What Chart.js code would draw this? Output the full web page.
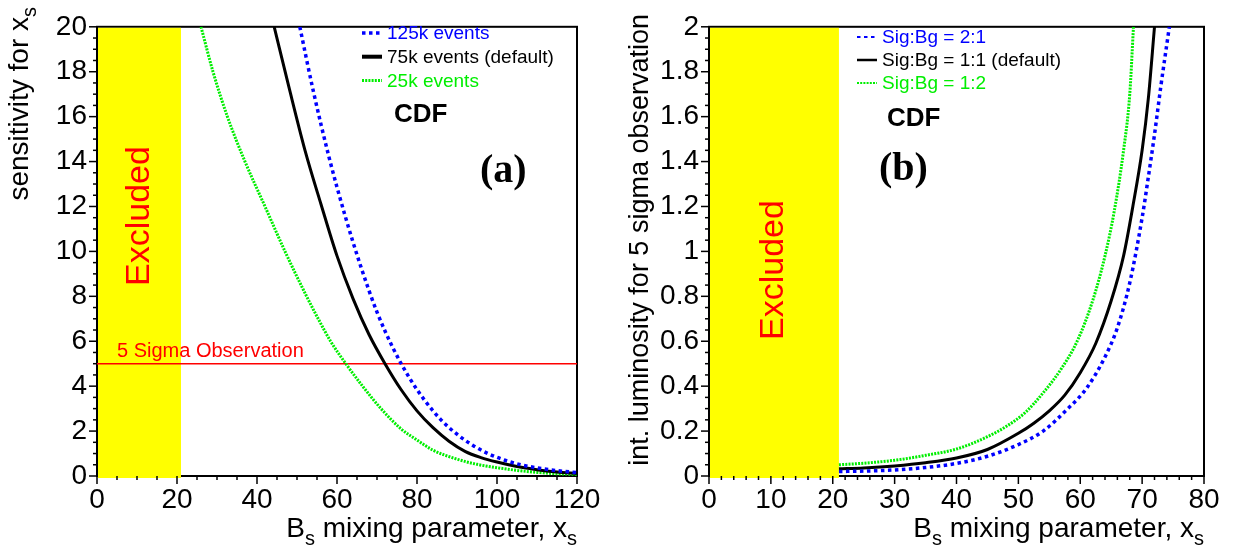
<!DOCTYPE html>
<html>
<head>
<meta charset="utf-8">
<script src="https://cdn.jsdelivr.net/npm/chart.js@4.4.0/dist/chart.umd.min.js"></script>
<style>
html, body { margin: 0; padding: 0; background: #fff; }
#wrap { position: relative; width: 1233px; height: 550px; }
.panel { position: absolute; top: 0; height: 550px; }
</style>
</head>
<body>
<div id="wrap">
  <div class="panel" style="left:0;width:615px"><canvas id="chartA" width="615" height="550"></canvas></div>
  <div class="panel" style="left:615px;width:618px"><canvas id="chartB" width="618" height="550"></canvas></div>
</div>
<script>
// ---- panel (a): sensitivity for x_s vs x_s ----
const a125kX = [50.7, 54, 58, 62, 66, 70, 74, 78, 82, 86, 90, 94, 98, 102, 106, 110, 115, 120];
const a125kY = [20, 17.2, 14.2, 11.6, 9.3, 7.3, 5.7, 4.4, 3.35, 2.5, 1.86, 1.36, 0.98, 0.7, 0.5, 0.36, 0.24, 0.15];
const a75kX = [44.3, 48, 52, 56, 60, 64, 68, 72, 76, 80, 84, 88, 92, 96, 100, 105, 110, 115, 120];
const a75kY = [20, 17.3, 14.5, 12.1, 9.8, 7.9, 6.3, 5.0, 3.85, 2.9, 2.15, 1.55, 1.1, 0.82, 0.62, 0.42, 0.28, 0.18, 0.11];
const a25kX = [26, 29, 32.6, 37, 42, 47, 52.4, 55.3, 58.4, 62.2, 66.4, 71, 76, 80, 84, 90, 95, 100, 105, 110, 115, 120];
const a25kY = [20, 18, 16, 14, 12, 10, 8, 7, 6, 5, 4, 3, 2.1, 1.6, 1.15, 0.75, 0.52, 0.37, 0.25, 0.16, 0.1, 0.07];
const sigmaLevel = 5;
const xRangeA = [0, 120];

// ---- panel (b): int. luminosity for 5 sigma vs x_s ----
const b21X = [21, 25, 30, 35, 40, 45, 50, 54, 58, 61, 64, 66, 68, 70, 71, 72, 73, 74.4];
const b21Y = [0.02, 0.022, 0.027, 0.038, 0.056, 0.088, 0.14, 0.2, 0.3, 0.39, 0.53, 0.66, 0.86, 1.15, 1.33, 1.52, 1.73, 2.0];
const b11X = [21, 25, 30, 35, 40, 45, 50, 52.5, 55, 57.5, 60, 62.5, 65, 67, 68.5, 70, 71, 72];
const b11Y = [0.032, 0.036, 0.045, 0.059, 0.08, 0.118, 0.19, 0.235, 0.29, 0.36, 0.46, 0.59, 0.78, 0.98, 1.2, 1.45, 1.68, 2.0];
const b12X = [21, 25, 30, 35, 40, 45, 48, 51, 54, 57, 59.5, 62, 64, 65.5, 67, 68, 68.6];
const b12Y = [0.05, 0.057, 0.07, 0.092, 0.12, 0.175, 0.22, 0.28, 0.37, 0.48, 0.6, 0.78, 0.98, 1.18, 1.45, 1.7, 2.0];

const excludedRange = [0, 21];

const BLUE = '#0000ff';
const GREEN = '#00ee00';
const SANS = '"Liberation Sans", Arial, sans-serif';

function pts(xs, ys) {
    return xs.map((x, i) => ({x: x, y: ys[i]}));
}

function drawParts(ctx, parts, size) {
    // text with subscripts, drawn from the current origin
    let x = 0;
    parts.forEach(p => {
        const fs = p.sub ? Math.round(size * 0.7) : size;
        ctx.font = fs + 'px ' + SANS;
        ctx.fillText(p.t, x, p.sub ? size * 0.28 : 0);
        x += ctx.measureText(p.t).width;
    });
    return x;
}

function partsWidth(ctx, parts, size) {
    let w = 0;
    parts.forEach(p => {
        ctx.font = (p.sub ? Math.round(size * 0.7) : size) + 'px ' + SANS;
        w += ctx.measureText(p.t).width;
    });
    return w;
}

const decorations = {
    id: 'decorations',
    beforeDatasetsDraw(chart, args, o) {
        const {ctx, chartArea: a, scales: {x, y}} = chart;
        ctx.save();
        ctx.strokeStyle = '#000';
        ctx.lineWidth = 2;
        ctx.strokeRect(a.left, a.top, a.width, a.height);
        // excluded region
        const x0 = x.getPixelForValue(excludedRange[0]) + 1;
        const x1 = x.getPixelForValue(excludedRange[1]);
        ctx.fillStyle = '#ffff00';
        ctx.fillRect(x0, a.top + 1, x1 - x0, a.bottom - a.top + 1);
        ctx.restore();
    },
    afterDatasetsDraw(chart, args, o) {
        const {ctx, chartArea: a, scales: {x, y}} = chart;
        ctx.save();
        // tick marks, outside the frame
        ctx.strokeStyle = '#000';
        ctx.lineWidth = 1.5;
        const xs = x.options.ticks.stepSize, ys = y.options.ticks.stepSize;
        for (let v = x.min; v <= x.max + 1e-9; v += o.xMinor) {
            const px = x.getPixelForValue(v);
            const major = Math.abs(v / xs - Math.round(v / xs)) < 1e-6;
            ctx.beginPath();
            ctx.moveTo(px, a.bottom);
            ctx.lineTo(px, a.bottom + (major ? 8 : 4));
            ctx.stroke();
        }
        for (let v = y.min; v <= y.max + 1e-9; v += o.yMinor) {
            const py = y.getPixelForValue(v);
            const major = Math.abs(v / ys - Math.round(v / ys)) < 1e-6;
            ctx.beginPath();
            ctx.moveTo(a.left, py);
            ctx.lineTo(a.left - (major ? 8 : 4), py);
            ctx.stroke();
        }

        // Excluded
        ctx.save();
        ctx.translate(o.excl[0], o.excl[1]);
        ctx.rotate(-Math.PI / 2);
        ctx.fillStyle = '#ff0000';
        ctx.font = '34px ' + SANS;
        ctx.textAlign = 'center';
        ctx.textBaseline = 'middle';
        ctx.fillText('Excluded', 0, 0);
        ctx.restore();

        // legend
        ctx.textBaseline = 'middle';
        ctx.textAlign = 'left';
        let row = 0;
        chart.data.datasets.forEach(ds => {
            if (ds.noLegend) return;
            const ly = o.legend.y + row * o.legend.dy;
            ctx.strokeStyle = ds.borderColor;
            ctx.lineWidth = ds.legendWidth;
            ctx.setLineDash(ds.borderDash || []);
            ctx.beginPath();
            ctx.moveTo(o.legend.x, ly);
            ctx.lineTo(o.legend.x + 20, ly);
            ctx.stroke();
            ctx.setLineDash([]);
            ctx.fillStyle = ds.borderColor;
            ctx.font = '19px ' + SANS;
            ctx.fillText(ds.label, o.legend.x + 25, ly + 1);
            row++;
        });

        // CDF and panel tag
        ctx.fillStyle = '#000';
        ctx.font = 'bold 26px ' + SANS;
        ctx.fillText('CDF', o.cdf[0], o.cdf[1]);
        ctx.font = 'bold 40px "Liberation Serif", serif';
        ctx.fillText(o.tag, o.tagPos[0], o.tagPos[1]);

        // 5 sigma text
        if (o.sigmaText) {
            ctx.fillStyle = '#ff0000';
            ctx.font = '20px ' + SANS;
            ctx.textBaseline = 'alphabetic';
            ctx.fillText('5 Sigma Observation', x.getPixelForValue(5), y.getPixelForValue(sigmaLevel) - 7);
        }

        // axis titles
        ctx.fillStyle = '#000';
        ctx.textBaseline = 'alphabetic';
        const xt = [{t: 'B'}, {t: 's', sub: true}, {t: ' mixing parameter, x'}, {t: 's', sub: true}];
        const w = partsWidth(ctx, xt, 28);
        ctx.save();
        ctx.translate(a.right - w, 537);
        drawParts(ctx, xt, 28);
        ctx.restore();

        const yw = partsWidth(ctx, o.yTitle, o.yTitleSize);
        ctx.save();
        ctx.translate(o.yTitleX, o.yTitleTop + yw);
        ctx.rotate(-Math.PI / 2);
        drawParts(ctx, o.yTitle, o.yTitleSize);
        ctx.restore();

        ctx.restore();
    }
};

function makeAxes(xr, xStep, yMax, yStep, yWidth) {
    const tickFont = {family: SANS, size: 28};
    return {
        x: {
            type: 'linear', min: xr[0], max: xr[1],
            grid: {display: false, drawTicks: false},
            border: {display: false},
            ticks: {stepSize: xStep, color: '#000', font: tickFont, padding: 7, maxRotation: 0},
            afterFit: s => { s.height = 74; }
        },
        y: {
            type: 'linear', min: 0, max: yMax,
            grid: {display: false, drawTicks: false},
            border: {display: false},
            ticks: {
                stepSize: yStep, color: '#000', font: tickFont, padding: 10,
                callback: v => String(Math.round(v * 100) / 100)
            },
            afterFit: s => { s.width = yWidth; }
        }
    };
}

function lineSet(label, xs, ys, color, width, dash, legendWidth) {
    return {
        label: label,
        data: pts(xs, ys),
        borderColor: color,
        borderWidth: width,
        borderDash: dash,
        legendWidth: legendWidth,
        pointRadius: 0,
        fill: false,
        cubicInterpolationMode: 'monotone'
    };
}

const baseOpts = {
    responsive: false,
    animation: false,
    plugins: {legend: {display: false}, tooltip: {enabled: false}}
};

new Chart(document.getElementById('chartA'), {
    type: 'line',
    data: {
        datasets: [
            lineSet('125k events', a125kX, a125kY, BLUE, 3.5, [3.5, 3.5], 3.5),
            lineSet('75k events (default)', a75kX, a75kY, '#000', 3, [], 4),
            lineSet('25k events', a25kX, a25kY, GREEN, 3, [2, 1.2], 3),
            {
                label: '5 sigma', noLegend: true,
                data: pts(xRangeA, [sigmaLevel, sigmaLevel]),
                borderColor: '#ff0000', borderWidth: 1.5, pointRadius: 0
            }
        ]
    },
    options: Object.assign({}, baseOpts, {
        layout: {padding: {left: 0, top: 7, right: 38, bottom: 0}},
        scales: makeAxes(xRangeA, 20, 20, 2, 97),
        plugins: Object.assign({}, baseOpts.plugins, {
            decorations: {
                xMinor: 5, yMinor: 0.5,
                excl: [140, 216],
                legend: {x: 362, y: 33, dy: 23.7},
                cdf: [394, 115],
                tag: '(a)', tagPos: [480, 172],
                sigmaText: true,
                yTitle: [{t: 'sensitivity for x'}, {t: 's', sub: true}],
                yTitleSize: 28, yTitleX: 28, yTitleTop: 7
            }
        })
    }),
    plugins: [decorations]
});

new Chart(document.getElementById('chartB'), {
    type: 'line',
    data: {
        datasets: [
            lineSet('Sig:Bg = 2:1', b21X, b21Y, BLUE, 3.5, [3.5, 3.5], 2),
            lineSet('Sig:Bg = 1:1 (default)', b11X, b11Y, '#000', 3, [], 2.5),
            lineSet('Sig:Bg = 1:2', b12X, b12Y, GREEN, 3, [2, 1.2], 2)
        ]
    },
    options: Object.assign({}, baseOpts, {
        layout: {padding: {left: 0, top: 12, right: 29, bottom: 0}},
        scales: makeAxes([0, 80], 10, 2, 0.2, 94),
        plugins: Object.assign({}, baseOpts.plugins, {
            decorations: {
                xMinor: 2, yMinor: 0.05,
                excl: [159, 270],
                legend: {x: 242, y: 37, dy: 23},
                cdf: [272, 119],
                tag: '(b)', tagPos: [264, 170],
                sigmaText: false,
                yTitle: [{t: 'int. luminosity for 5 sigma observation'}],
                yTitleSize: 27, yTitleX: 33, yTitleTop: 14
            }
        })
    }),
    plugins: [decorations]
});
</script>
</body>
</html>
